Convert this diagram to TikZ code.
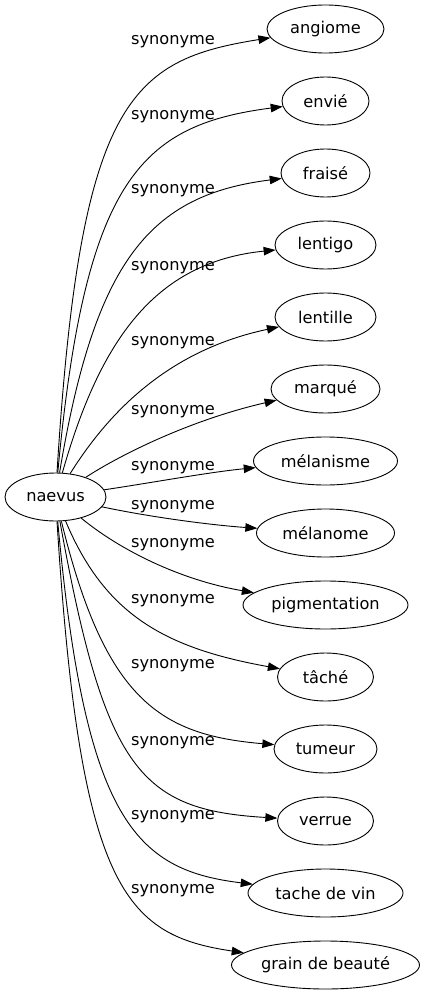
\documentclass[tikz,border=0pt]{standalone}
\usepackage{fontspec}
\setmainfont{DejaVu Sans}
\usetikzlibrary{arrows.meta,shapes.geometric}
\begin{document}
\begin{tikzpicture}[x=1pt,y=-1pt,
  term/.style={draw, ellipse, inner sep=0pt, minimum height=48pt, line width=0.9pt, font=\fontsize{16.2}{18}\selectfont},
  rel/.style={font=\fontsize{16.2}{18}\selectfont, anchor=base, inner sep=0pt},
  link/.style={draw, line width=0.9pt, -{Triangle[length=12pt,width=8.5pt]}}]
\useasboundingbox (0,0) rectangle (425,995);
\node[term, minimum width=101pt] (naevus) at (55.5,497) {naevus};
\node[term, minimum width=117pt] (angiome) at (325.5,29) {angiome};
\node[term, minimum width=87pt] (envie) at (325.5,101) {envié};
\node[term, minimum width=89pt] (fraise) at (325.5,173) {fraisé};
\node[term, minimum width=101pt] (lentigo) at (325.5,245) {lentigo};
\node[term, minimum width=101pt] (lentille) at (325.5,317) {lentille};
\node[term, minimum width=109pt] (marque) at (325.5,389) {marqué};
\node[term, minimum width=144pt] (melanisme) at (325.5,461) {mélanisme};
\node[term, minimum width=138pt] (melanome) at (325.5,533) {mélanome};
\node[term, minimum width=165pt] (pigmentation) at (325.5,605) {pigmentation};
\node[term, minimum width=96pt] (tache) at (325.5,677) {tâché};
\node[term, minimum width=103pt] (tumeur) at (325.5,749) {tumeur};
\node[term, minimum width=96pt] (verrue) at (325.5,821) {verrue};
\node[term, minimum width=155pt] (vin) at (325.5,893) {tache de vin};
\node[term, minimum width=188pt] (grain) at (325.5,965) {grain de beauté};

\node[rel] (l1) at (173,44.5) {synonyme};
\node[rel] (l2) at (173,119.5) {synonyme};
\node[rel] (l3) at (173,193.5) {synonyme};
\node[rel] (l4) at (173,270.5) {synonyme};
\node[rel] (l5) at (173,345.5) {synonyme};
\node[rel] (l6) at (173,414.5) {synonyme};
\node[rel] (l7) at (173,470.5) {synonyme};
\node[rel] (l8) at (173,509.5) {synonyme};
\node[rel] (l9) at (173,547.5) {synonyme};
\node[rel] (l10) at (173,603.5) {synonyme};
\node[rel] (l11) at (173,668.5) {synonyme};
\node[rel] (l12) at (173,745.5) {synonyme};
\node[rel] (l13) at (173,819.5) {synonyme};
\node[rel] (l14) at (173,893.5) {synonyme};

\path[link] (naevus) .. controls (80,100) and (130,60) .. (angiome);
\path[link] (naevus) .. controls (85,180) and (140,125) .. (envie);
\path[link] (naevus) .. controls (95,260) and (150,195) .. (fraise);
\path[link] (naevus) .. controls (100,340) and (155,262) .. (lentigo);
\path[link] (naevus) .. controls (110,410) and (170,350) .. (lentille);
\path[link] (naevus) .. controls (120,455) and (190,420) .. (marque);
\path[link] (naevus) .. controls (150,483) and (210,472) .. (melanisme);
\path[link] (naevus) .. controls (150,517) and (210,525) .. (melanome);
\path[link] (naevus) .. controls (120,550) and (180,580) .. (pigmentation);
\path[link] (naevus) .. controls (105,615) and (165,648) .. (tache);
\path[link] (naevus) .. controls (105,700) and (160,735) .. (tumeur);
\path[link] (naevus) .. controls (105,770) and (140,810) .. (verrue);
\path[link] (naevus) .. controls (85,820) and (135,870) .. (vin);
\path[link] (naevus) .. controls (80,890) and (125,935) .. (grain);
\end{tikzpicture}
\end{document}
